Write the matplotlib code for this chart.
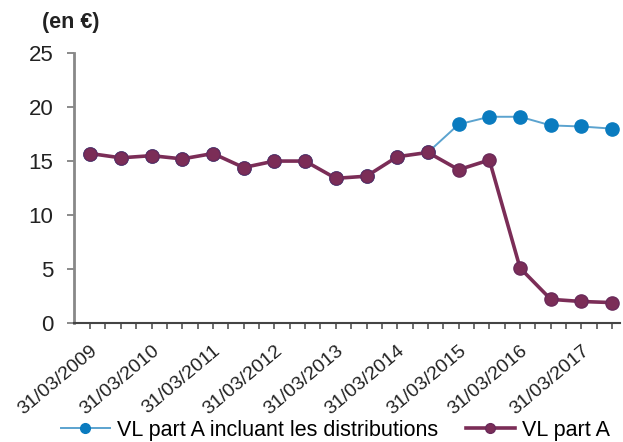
import numpy as np
import matplotlib
matplotlib.use("Agg")
import matplotlib.pyplot as plt

plt.rcParams['font.family'] = ['Liberation Sans', 'DejaVu Sans']

# Semi-annual valuation dates (every other one is labelled)
dates = ["31/03/2009", "30/09/2009", "31/03/2010", "30/09/2010", "31/03/2011",
         "30/09/2011", "31/03/2012", "30/09/2012", "31/03/2013", "30/09/2013",
         "31/03/2014", "30/09/2014", "31/03/2015", "30/09/2015", "31/03/2016",
         "30/09/2016", "31/03/2017", "30/09/2017"]
vl_part_a = [15.7, 15.3, 15.5, 15.2, 15.7, 14.4, 15.0, 15.0, 13.4, 13.6,
             15.4, 15.8, 14.2, 15.1, 5.1, 2.2, 2.0, 1.9]
vl_with_distrib = [15.7, 15.3, 15.5, 15.2, 15.7, 14.4, 15.0, 15.0, 13.4, 13.6,
                   15.4, 15.8, 18.4, 19.1, 19.1, 18.3, 18.2, 18.0]

label_blue = "VL part A incluant les distributions"
label_purple = "VL part A"

fig = plt.figure(figsize=(6.23, 4.42), dpi=100)
ax = fig.add_axes([0.119, 0.269, 0.876, 0.611])

x = np.arange(len(dates))
ax.plot(x, vl_with_distrib, color='#5ba3cf', lw=1.4, marker='o', ms=9.5,
        mfc='#0a7bbf', mec='#0a7bbf', label=label_blue, zorder=2)
ax.plot(x, vl_part_a, color='#7b2d57', lw=2.6, marker='o', ms=9.5,
        mfc='#7b2d57', mec='#6a2a5a', label=label_purple, zorder=3)

ax.set_xlim(-0.52, 17.25)
ax.set_ylim(0, 25)
ax.set_yticks([0, 5, 10, 15, 20, 25])

# quarterly minor ticks, labels on each March date
ax.set_xticks(x[::2])
ax.set_xticklabels(dates[::2], rotation=40, ha='right', va='top',
                   rotation_mode='anchor', fontsize=14, color='#222222')
ax.set_xticks(np.arange(0, 17.5, 0.5), minor=True)
ax.tick_params(axis='x', which='both', direction='out', length=4, width=1.2,
               color='#555555', pad=10)
ax.tick_params(axis='y', direction='out', length=5, width=1.2, color='#777777',
               labelsize=16, labelcolor='#222222', pad=10)

for s in ['top', 'right']:
    ax.spines[s].set_visible(False)
ax.spines['left'].set_color('#888888')
ax.spines['left'].set_linewidth(2)
ax.spines['bottom'].set_color('#444444')
ax.spines['bottom'].set_linewidth(1.5)

fig.text(0.068, 0.95, "(en €)", fontsize=15.5, fontweight='bold', color='#222222',
         va='center')

leg = fig.legend(loc='center', bbox_to_anchor=(0.538, 0.027), ncol=2, frameon=False,
                 fontsize=15.5, handlelength=2.3, columnspacing=1.3,
                 handletextpad=0.3, borderaxespad=0)
for h in leg.legend_handles:
    h.set_markersize(7)

fig.savefig("out.png", dpi=100)
